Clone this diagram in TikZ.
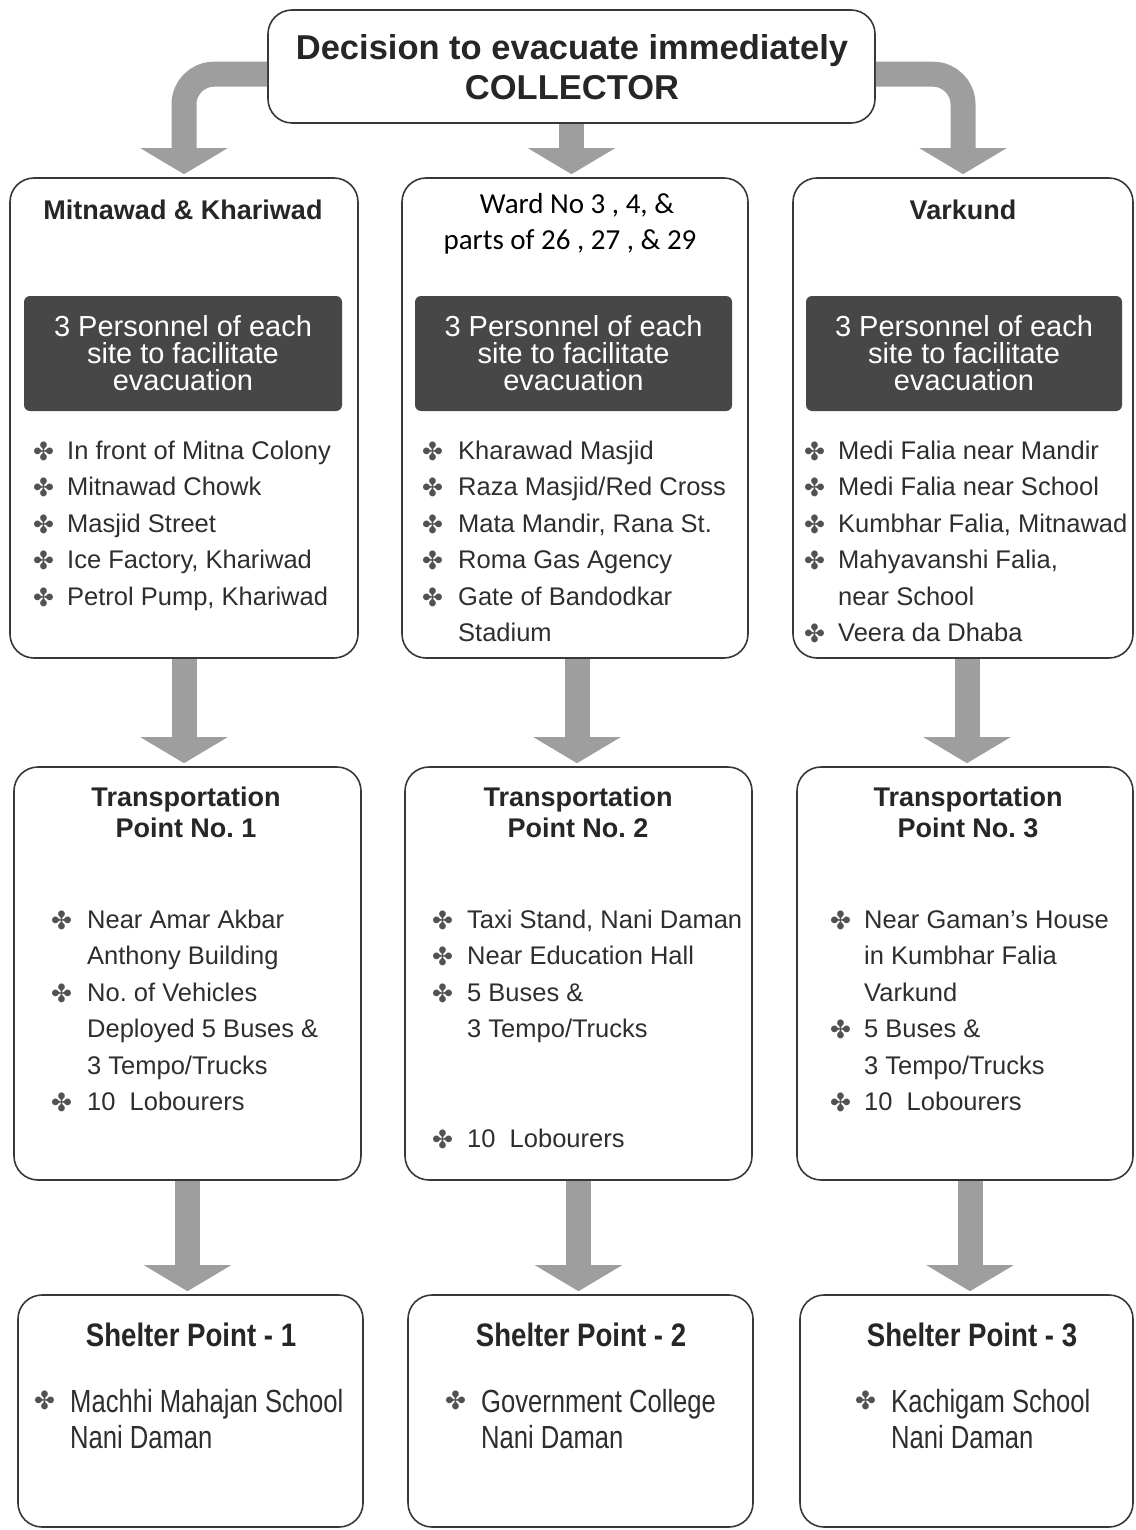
\documentclass[tikz,border=0pt]{standalone}
\usepackage{fontspec}
\setmainfont{Liberation Sans}
\newfontfamily\dingfont{DejaVu Sans}
\newfontfamily\calfont{Carlito}
\newfontfamily\condfont[FakeStretch=0.8]{Liberation Sans}
\newfontfamily\condbfont[FakeStretch=0.85]{Liberation Sans}
\usetikzlibrary{arrows.meta}
\frenchspacing
\tikzset{
  box/.style={draw=black!78, line width=1.6pt, rounded corners=24pt, fill=white, inner sep=0pt},
  darkbox/.style={fill=black!72, rounded corners=6pt, text=white, align=center, inner sep=0pt,
    font=\fontsize{29}{27}\selectfont},
  ttl/.style={font=\bfseries\fontsize{27}{31}\selectfont, text=black!85, anchor=base, inner sep=0pt},
  wardttl/.style={font=\calfont\fontsize{29}{31}\selectfont, text=black, anchor=base, inner sep=0pt},
  topttl/.style={font=\bfseries\fontsize{34.5}{40}\selectfont, text=black!85, align=center, inner sep=0pt},
  shttl/.style={font=\condbfont\bfseries\fontsize{32.5}{34}\selectfont, text=black!85, anchor=base, inner sep=0pt},
  itm/.style={font=\fontsize{25.5}{30}\selectfont, text=black!82, anchor=base west, inner sep=0pt},
  shi/.style={font=\condfont\fontsize{32}{34}\selectfont, text=black!82, anchor=base west, inner sep=0pt},
  bul/.style={font=\dingfont\fontsize{25}{27}\selectfont, text=black!68, anchor=base west, inner sep=0pt},
  bigarrow/.style={draw=black!38, line width=25pt, -{Triangle[width=86pt,length=26pt]}, shorten >=3pt},
}
% #1 name, #2 bullet x, #3 text x, #4 first baseline, #5 text style, #6 bullet y offset, #7 list of flag/text
\newcommand\itemlist[7]{%
  \foreach \bu/\tx [count=\i from 0] in {#7}{
    \node[#5] (#1t\i) at (#3, #4+36.5*\i) {\tx};
    \ifnum\bu=1 \node[bul] (#1b\i) at (#2-2, #4+#6+36.5*\i) {✤};\fi
  }}
\begin{document}
\begin{tikzpicture}[x=1pt, y=-1pt]
\useasboundingbox (0,0) rectangle (1135,1530);

% boxes
\node[box, minimum width=607pt, minimum height=113pt] (top) at (571.5,66.5) {};
\node[box, minimum width=348pt, minimum height=480pt] (b1) at (184,418) {};
\node[box, minimum width=346pt, minimum height=480pt] (b2) at (575,418) {};
\node[box, minimum width=340pt, minimum height=480pt] (b3) at (963,418) {};
\node[box, minimum width=347pt, minimum height=413pt] (b4) at (187.5,973.5) {};
\node[box, minimum width=347pt, minimum height=413pt] (b5) at (578.5,973.5) {};
\node[box, minimum width=336pt, minimum height=413pt] (b6) at (965,973.5) {};
\node[box, minimum width=345pt, minimum height=232pt] (b7) at (190.5,1411) {};
\node[box, minimum width=345pt, minimum height=232pt] (b8) at (580.5,1411) {};
\node[box, minimum width=333pt, minimum height=232pt] (b9) at (966.5,1411) {};

% arrows
\draw[bigarrow, rounded corners=30pt] ([yshift=-65pt]top.north west) -| (b1.north);
\draw[bigarrow] (top.south) -- (top.south |- b2.north);
\draw[bigarrow, rounded corners=30pt] ([yshift=-65pt]top.north east) -| (b3.north);
\draw[bigarrow] (b1.south) -- (b1.south |- b4.north);
\draw[bigarrow] ([xshift=2pt]b2.south) -- ([xshift=2pt]b2.south |- b5.north);
\draw[bigarrow] ([xshift=4pt]b3.south) -- ([xshift=4pt]b3.south |- b6.north);
\draw[bigarrow] (b4.south) -- (b4.south |- b7.north);
\draw[bigarrow] (b5.south) -- (b5.south |- b8.north);
\draw[bigarrow] ([xshift=5pt]b6.south) -- ([xshift=5pt]b6.south |- b9.north);

% top box text
\node[topttl] (toptext) at (572,67) {Decision to evacuate immediately\\COLLECTOR};

% row 1 titles
\node[ttl] (t1) at (183,220) {Mitnawad \& Khariwad};
\node[wardttl] (t2a) at (577,214) {Ward No 3 , 4, \&};
\node[wardttl] (t2b) at (570,250) {parts of 26 , 27 , \& 29};
\node[ttl] (t3) at (963,220) {Varkund};

% dark boxes
\node[darkbox, minimum width=318pt, minimum height=115pt] (d1) at (183,353.5)
  {3 Personnel of each\\site to facilitate\\evacuation};
\node[darkbox, minimum width=317pt, minimum height=115pt] (d2) at (573.5,353.5)
  {3 Personnel of each\\site to facilitate\\evacuation};
\node[darkbox, minimum width=316pt, minimum height=115pt] (d3) at (964,353.5)
  {3 Personnel of each\\site to facilitate\\evacuation};

% row 1 lists
\itemlist{A}{35}{67}{459}{itm}{1}{1/In front of Mitna Colony, 1/Mitnawad Chowk, 1/Masjid Street,
  1/{Ice Factory, Khariwad}, 1/{Petrol Pump, Khariwad}}
\itemlist{B}{424}{458}{459}{itm}{1}{1/Kharawad Masjid, 1/{Raza Masjid/Red Cross},
  1/{Mata Mandir, Rana St.}, 1/Roma Gas Agency, 1/Gate of Bandodkar, 0/Stadium}
\itemlist{C}{806}{838}{459}{itm}{1}{1/Medi Falia near Mandir, 1/Medi Falia near School,
  1/{Kumbhar Falia, Mitnawad}, 1/{Mahyavanshi Falia,}, 0/near School, 1/Veera da Dhaba}

% row 2 titles
\node[ttl] (t4a) at (186,806) {Transportation};
\node[ttl] (t4b) at (186,837) {Point No. 1};
\node[ttl] (t5a) at (578,806) {Transportation};
\node[ttl] (t5b) at (578,837) {Point No. 2};
\node[ttl] (t6a) at (968,806) {Transportation};
\node[ttl] (t6b) at (968,837) {Point No. 3};

% row 2 lists
\itemlist{D}{53}{87}{928}{itm}{1}{1/Near Amar Akbar, 0/Anthony Building, 1/No. of Vehicles,
  0/Deployed 5 Buses \&, 0/{3 Tempo/Trucks}, 1/10~ Lobourers}
\itemlist{E}{434}{467}{928}{itm}{1}{1/{Taxi Stand, Nani Daman}, 1/Near Education Hall,
  1/5 Buses \&, 0/{3 Tempo/Trucks}}
\itemlist{EE}{434}{467}{1147}{itm}{1}{1/10~ Lobourers}
\itemlist{F}{832}{864}{928}{itm}{1}{1/Near Gaman's House, 0/in Kumbhar Falia, 0/Varkund,
  1/5 Buses \&, 0/{3 Tempo/Trucks}, 1/10~ Lobourers}

% row 3
\node[shttl] (t7) at (191,1346) {Shelter Point - 1};
\node[shttl] (t8) at (581,1346) {Shelter Point - 2};
\node[shttl] (t9) at (972,1346) {Shelter Point - 3};
\itemlist{G}{36}{70}{1412}{shi}{-3}{1/Machhi Mahajan School, 0/Nani Daman}
\itemlist{H}{447}{481}{1412}{shi}{-3}{1/Government College, 0/Nani Daman}
\itemlist{I}{857}{891}{1412}{shi}{-3}{1/Kachigam School, 0/Nani Daman}
\end{tikzpicture}
\end{document}
